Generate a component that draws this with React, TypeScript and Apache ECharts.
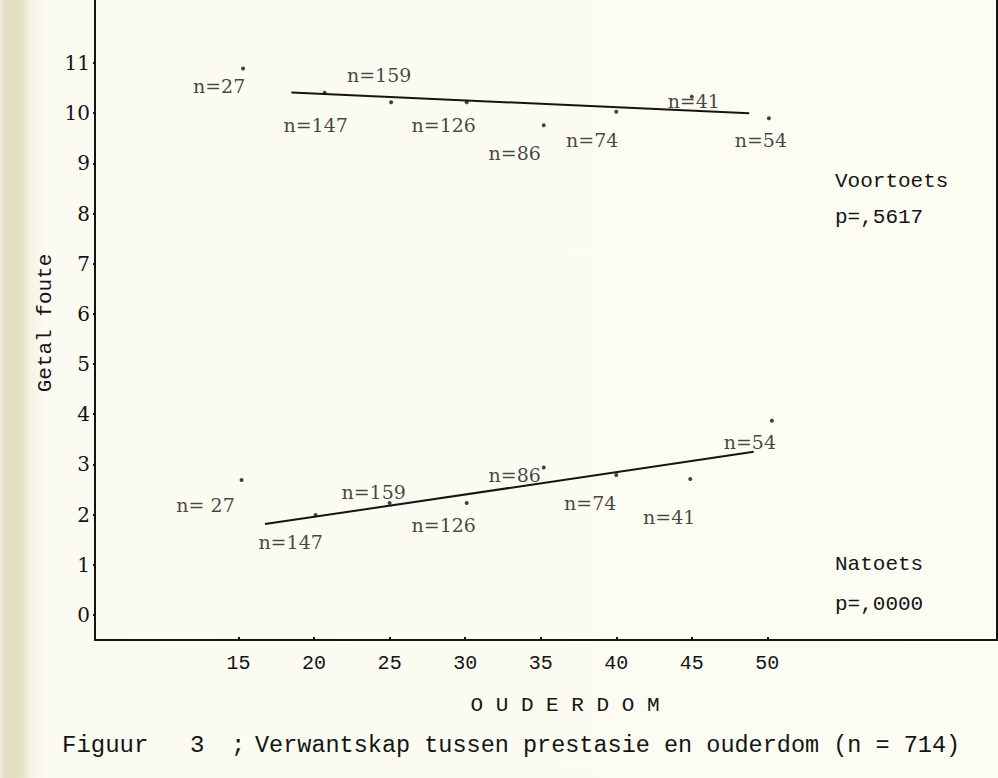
import React, { useEffect, useRef } from "react";
import * as echarts from "echarts";

// ---- data ----
const xTicks = [15, 20, 25, 30, 35, 40, 45, 50];
const yTicks = [0, 1, 2, 3, 4, 5, 6, 7, 8, 9, 10, 11];

const voorAge = [15.3, 20.7, 25.1, 30.1, 35.2, 40.0, 45.0, 50.1];
const voorErr = [10.89, 10.41, 10.22, 10.22, 9.76, 10.03, 10.33, 9.9];
const voorLabels = ["n=27", "n=147", "n=159", "n=126", "n=86", "n=74", "n=41", "n=54"];

const naAge = [15.2, 20.1, 25.0, 30.1, 35.2, 40.0, 44.9, 50.3];
const naErr = [2.69, 1.99, 2.23, 2.23, 2.94, 2.79, 2.71, 3.87];
const naLabels = ["n= 27", "n=147", "n=159", "n=126", "n=86", "n=74", "n=41", "n=54"];

const voorFitAge = [18.5, 48.8];
const voorFitErr = [10.41, 10.0];
const naFitAge = [16.75, 49.1];
const naFitErr = [1.81, 3.25];

const voorTitle = "Voortoets";
const voorP = "p=,5617";
const naTitle = "Natoets";
const naP = "p=,0000";
const yName = "Getal foute";
const xName = "O U D E R D O M";
const captionParts = ["Figuur", "3", ";", "Verwantskap tussen prestasie en ouderdom (n = 714)"];

// ---- label layout (pixel offsets from each dot) ----
const voorLabelOffsets = [
  [-24, 17], [-9, 32], [-12, -27], [-23, 23], [-29, 28], [-24, 28], [2, 4], [-8, 22],
];
const naLabelOffsets = [
  [-36, 25], [-25, 27], [-16, -11], [-23, 22], [-29, 8], [-26, 28], [-21, 38], [-22, 21],
];

const INK = "#141414";
const SERIF = "DejaVu Serif";
const MONO = "Liberation Mono";

function pointSeries(name: string, ages: number[], errs: number[], labels: string[], offs: number[][]) {
  return {
    name,
    type: "scatter",
    symbol: "circle",
    symbolSize: 4,
    itemStyle: { color: INK },
    z: 5,
    data: ages.map((a, i) => ({
      value: [a, errs[i]],
      label: {
        show: true,
        position: "inside",
        offset: offs[i],
        formatter: labels[i],
        fontFamily: SERIF,
        fontSize: 19,
        color: INK,
        align: "center",
        verticalAlign: "middle",
      },
    })),
  };
}

function fitSeries(name: string, ages: number[], errs: number[]) {
  return {
    name,
    type: "line",
    showSymbol: false,
    symbol: "none",
    lineStyle: { color: INK, width: 2 },
    data: ages.map((a, i) => [a, errs[i]]),
    z: 4,
  };
}

export default function App() {
  const ref = useRef<HTMLDivElement>(null);
  useEffect(() => {
    if (!ref.current) return;
    const chart = echarts.init(ref.current, null, { renderer: "svg" });
    const monoText = (text: string, x: number, y: number, size: number, extra: any = {}) => ({
      type: "text",
      x,
      y,
      style: {
        text,
        fontFamily: MONO,
        fontSize: size,
        fill: INK,
        textVerticalAlign: "middle",
        ...extra,
      },
    });
    chart.setOption({
      animation: false,
      backgroundColor: "transparent",
      grid: { left: 95, right: 1, top: 0, bottom: 138, containLabel: false },
      xAxis: {
        type: "value",
        min: 5.5,
        max: 65.2,
        splitLine: { show: false },
        axisLine: { show: true, onZero: false, lineStyle: { color: INK, width: 2 } },
        axisTick: { show: true, inside: true, length: 3, customValues: xTicks, lineStyle: { color: INK, width: 2 } },
        axisLabel: {
          show: true,
          customValues: xTicks,
          margin: 13,
          fontFamily: MONO,
          fontSize: 20,
          color: INK,
        },
      },
      yAxis: {
        type: "value",
        min: -0.5,
        max: 12.256,
        splitLine: { show: false },
        axisLine: { show: true, onZero: false, lineStyle: { color: INK, width: 2 } },
        axisTick: { show: true, inside: false, length: 2, customValues: yTicks, lineStyle: { color: INK, width: 2 } },
        axisLabel: {
          show: true,
          customValues: yTicks,
          margin: 5,
          fontFamily: SERIF,
          fontSize: 20,
          color: INK,
        },
      },
      series: [
        fitSeries("Voortoets lyn", voorFitAge, voorFitErr),
        fitSeries("Natoets lyn", naFitAge, naFitErr),
        pointSeries("Voortoets", voorAge, voorErr, voorLabels, voorLabelOffsets),
        pointSeries("Natoets", naAge, naErr, naLabels, naLabelOffsets),
      ],
      graphic: [
        { type: "line", shape: { x1: 997, y1: 0, x2: 997, y2: 641 }, style: { stroke: INK, lineWidth: 2 } },
        monoText(voorTitle, 835, 181, 21),
        monoText(voorP, 835, 217, 21),
        monoText(naTitle, 835, 564, 21),
        monoText(naP, 835, 604, 21),
        {
          type: "text",
          x: 45,
          y: 323,
          rotation: Math.PI / 2,
          style: {
            text: yName,
            fontFamily: MONO,
            fontSize: 21,
            fill: INK,
            textAlign: "center",
            textVerticalAlign: "middle",
          },
        },
        monoText(xName, 565, 705, 21, { textAlign: "center" }),
        monoText(captionParts[0], 62, 745, 24),
        monoText(captionParts[1], 190, 745, 24),
        monoText(captionParts[2], 231, 745, 24),
        monoText(captionParts[3], 255, 745, 23.5),
      ],
    });
    return () => chart.dispose();
  }, []);
  return (
    <div
      style={{
        position: "fixed",
        left: 0,
        top: 0,
        width: 998,
        height: 778,
        background:
          "linear-gradient(to right, #f1efdd 0px, #e3dec0 6px, #e6e2c5 22px, #f5f4e4 31px, #fbfbf1 45px, #fcfcf2 100%)",
      }}
    >
      <div ref={ref} style={{ width: 998, height: 778 }} />
    </div>
  );
}
